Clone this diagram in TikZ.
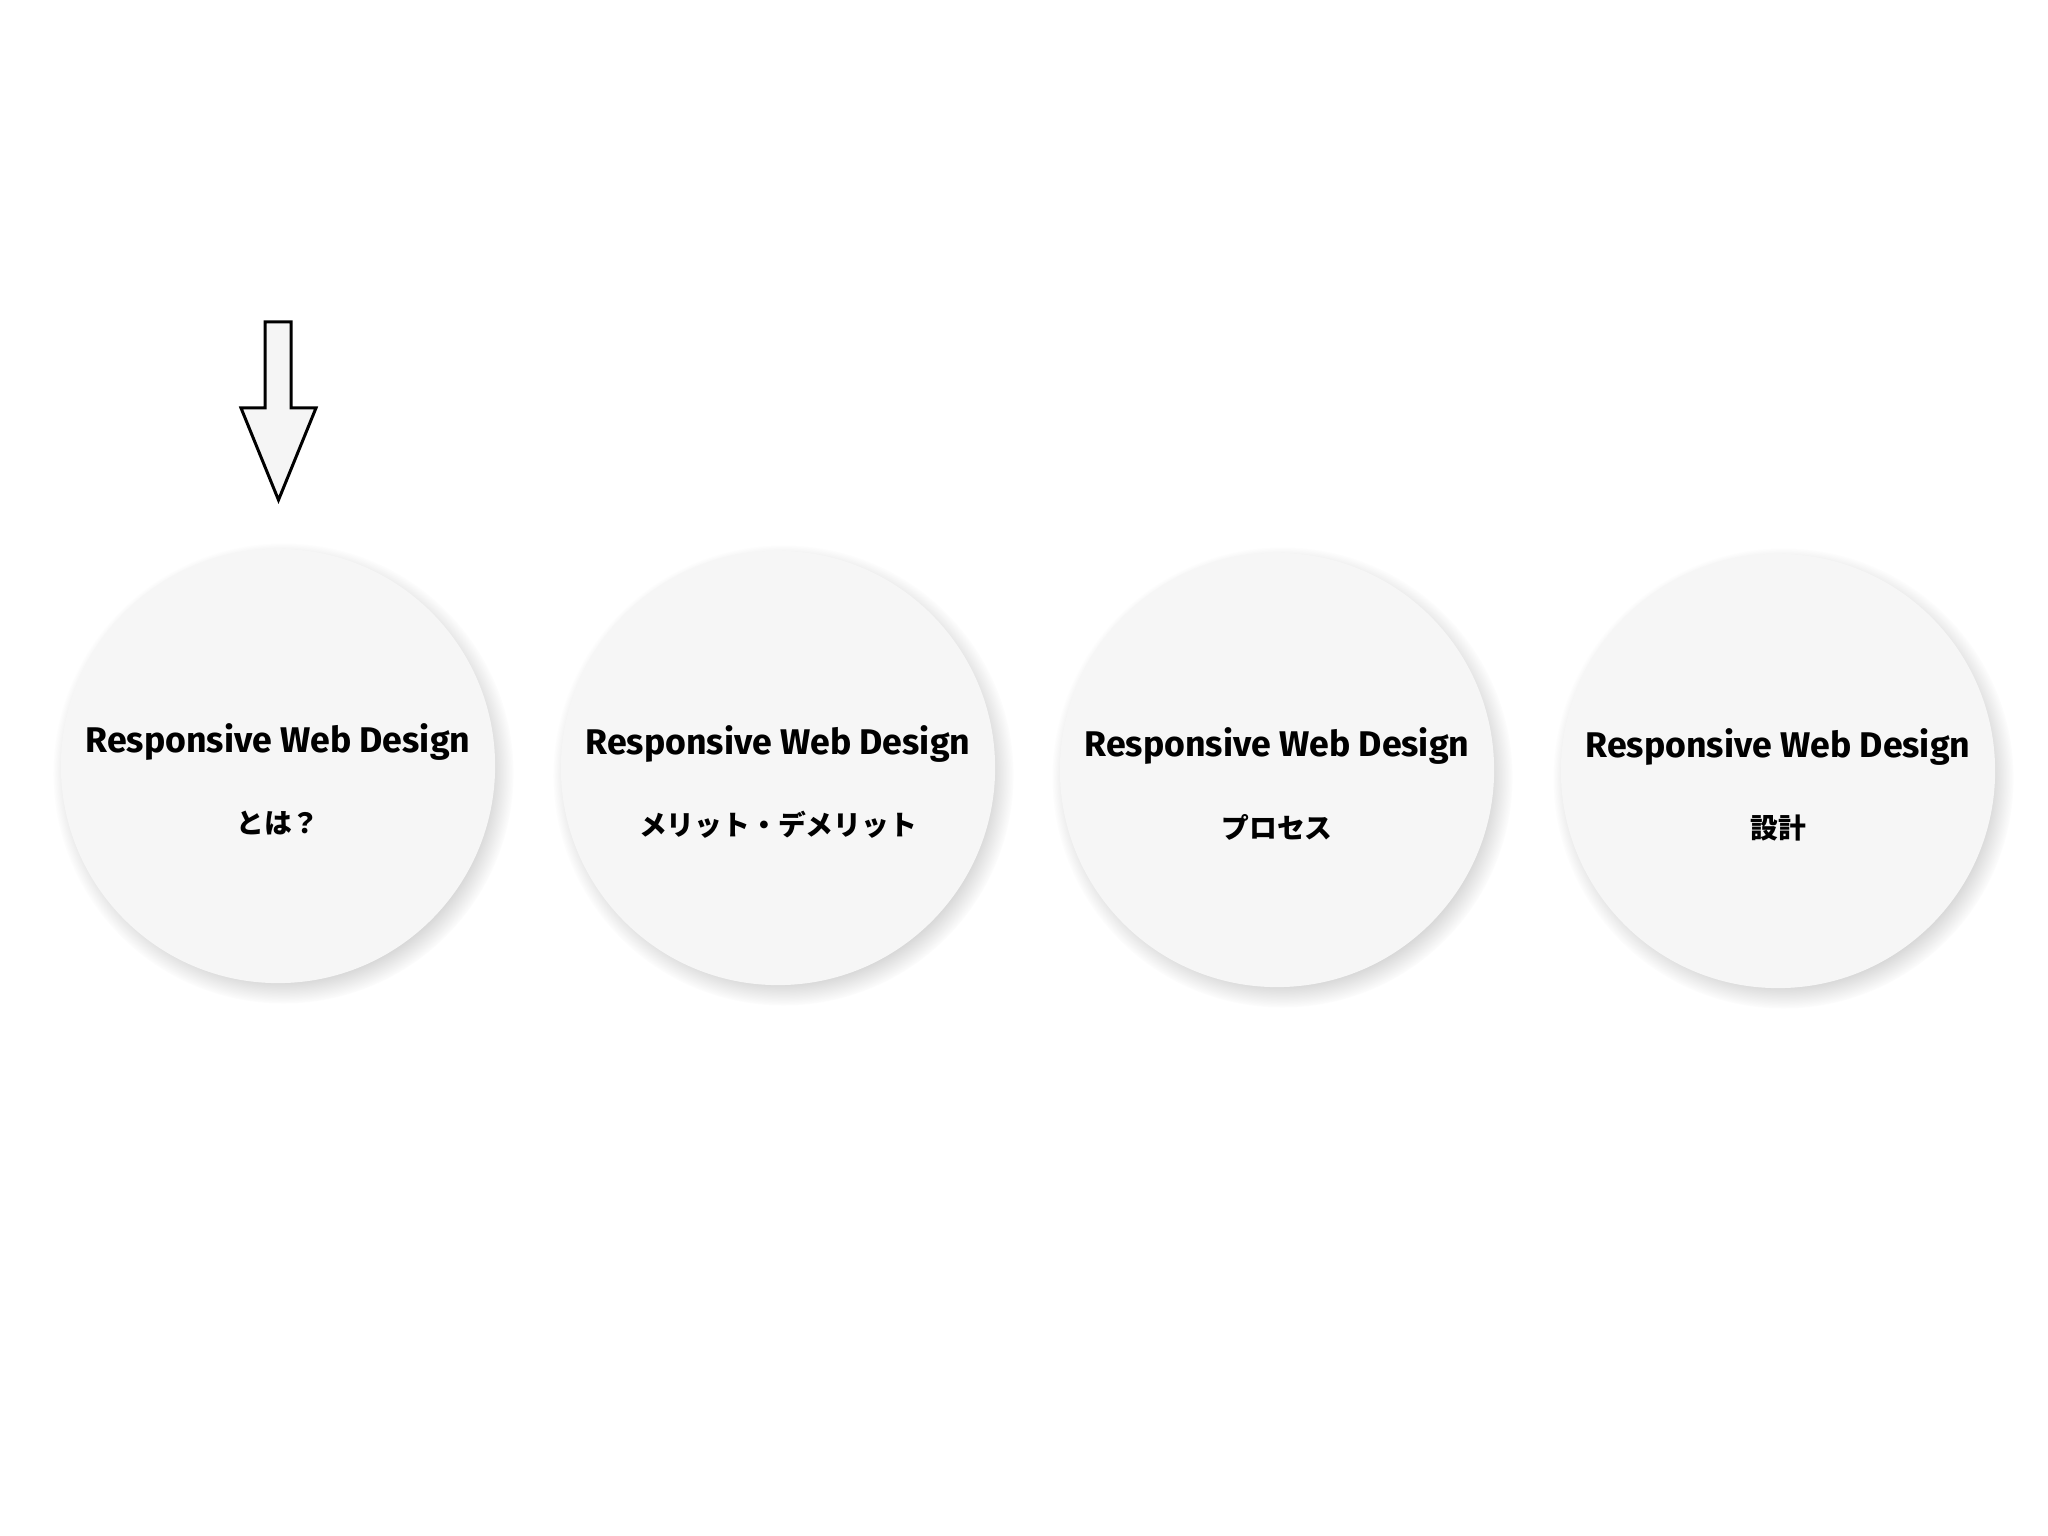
\documentclass[tikz,border=0pt]{standalone}
\usepackage{fontspec}
\setmainfont{Fira Sans}
\newfontfamily\jpfont{Noto Sans CJK JP}
\usetikzlibrary{positioning,shadows}
\tikzset{
	topic/.style={circle, minimum size=4.34cm, inner sep=0pt, fill=black!3.5,
		circular drop shadow={shadow scale=1.06, shadow xshift=0.05cm, shadow yshift=-0.07cm, opacity=0.45}},
	title/.style={font=\bfseries\fontsize{10.15}{12}\selectfont},
	sub/.style={font=\jpfont\bfseries\fontsize{7.9}{9}\selectfont},
}

\begin{document}
\begin{tikzpicture}[x=0.01cm, y=0.01cm]
			%%%%% START %%%%%
			
			\fill[white] (0, 0) rectangle (2048, 1536);
			\useasboundingbox (0, 0) rectangle (2048, 1536);
			
			\node[topic] (whatis) at (278, 770) {};
			\node[title] (whatis-title) at ([yshift=0.24cm]whatis.center) {Responsive Web Design};
			\node[sub] (whatis-sub) at ([yshift=-0.57cm]whatis.center) {とは？};
			
			\node[topic] (merit) at (778, 768) {};
			\node[title] (merit-title) at ([yshift=0.24cm]merit.center) {Responsive Web Design};
			\node[sub] (merit-sub) at ([yshift=-0.57cm]merit.center) {メリット・デメリット};
			
			\node[topic] (process) at (1277, 766) {};
			\node[title] (process-title) at ([yshift=0.24cm]process.center) {Responsive Web Design};
			\node[sub] (process-sub) at ([yshift=-0.57cm]process.center) {プロセス};
			
			\node[topic] (design) at (1778, 765) {};
			\node[title] (design-title) at ([yshift=0.24cm]design.center) {Responsive Web Design};
			\node[sub] (design-sub) at ([yshift=-0.57cm]design.center) {設計};
			
			%% block arrow over the first circle
			\draw[line width=0.03cm, line join=miter, fill=black!4]
				(265, 1214) -- (291, 1214) -- (291, 1128) -- (316, 1128)
				-- (278.5, 1036) -- (241, 1128) -- (265, 1128) -- cycle;
			
			%%%%% END %%%%%
		\end{tikzpicture}
\end{document}
